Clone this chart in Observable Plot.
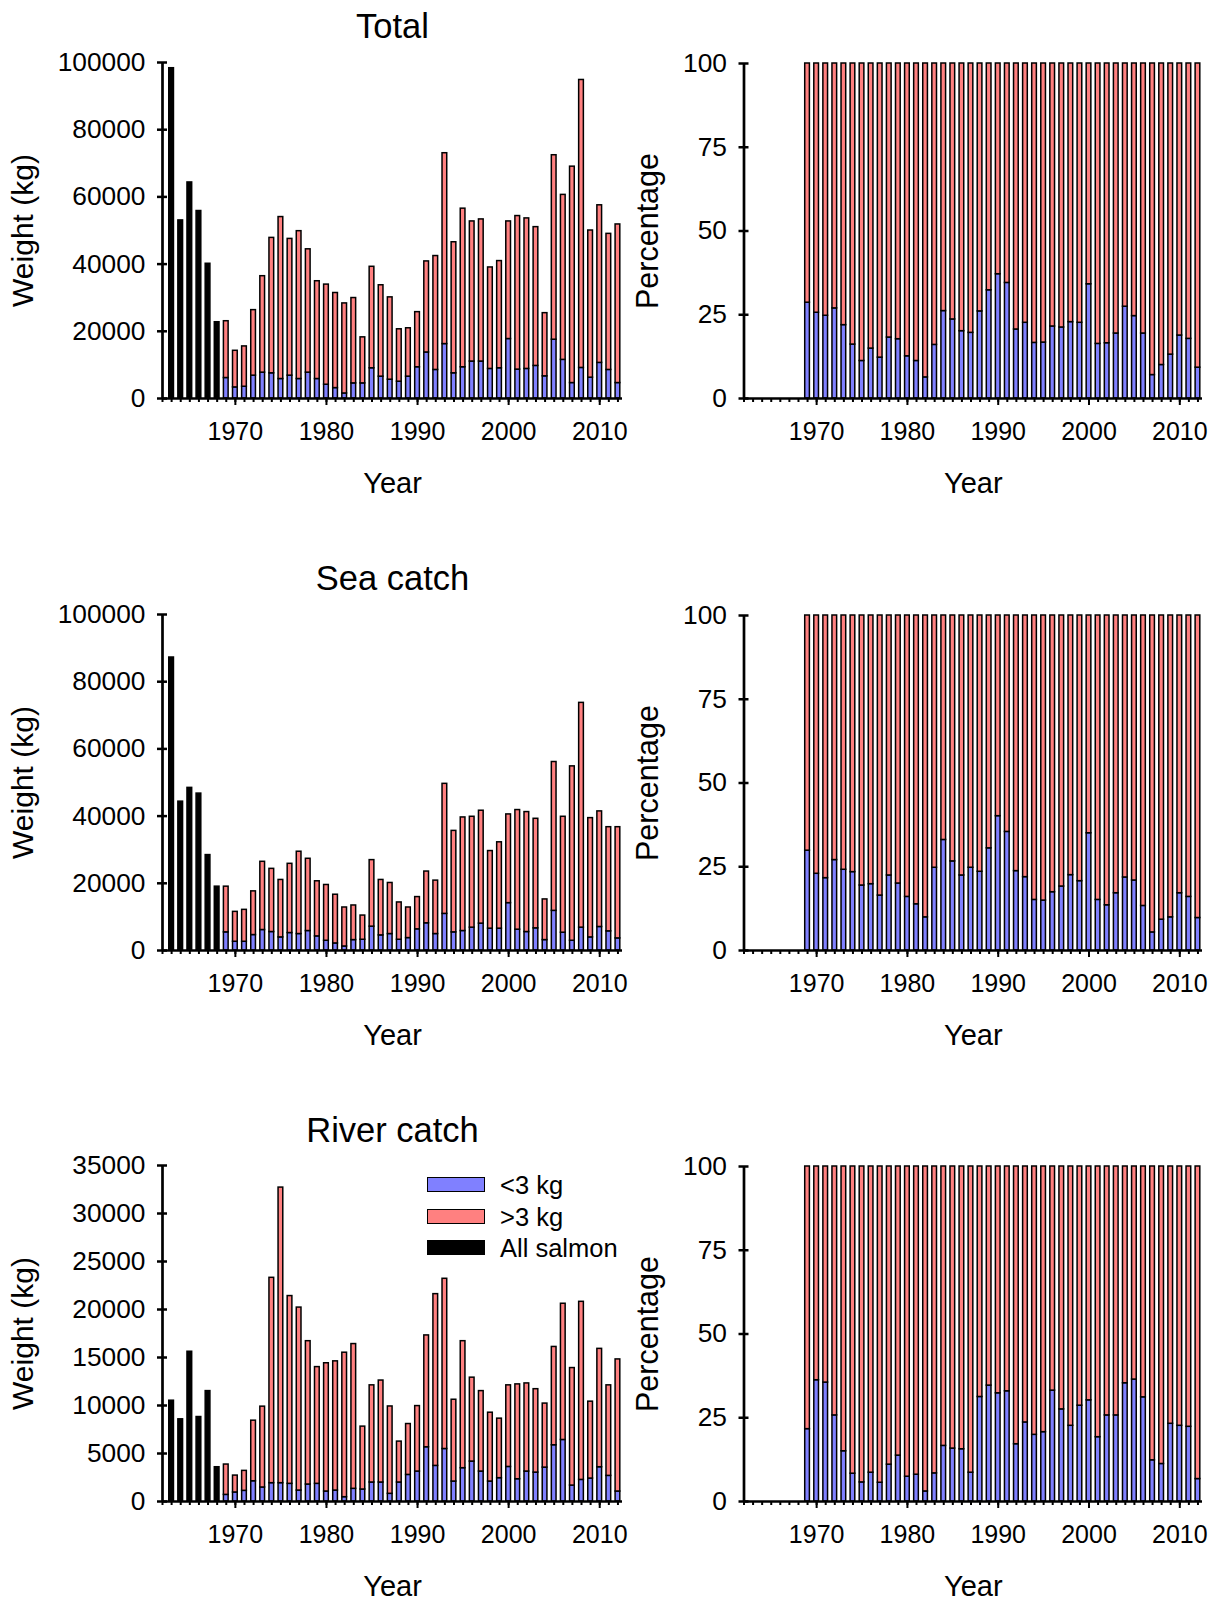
<!DOCTYPE html>
<html>
<head>
<meta charset="utf-8">
<script src="https://cdn.jsdelivr.net/npm/d3@7"></script>
<script src="https://cdn.jsdelivr.net/npm/@observablehq/plot@0.6"></script>
<style>
  html, body { margin: 0; padding: 0; background: #fff; }
  body { font-family: "Liberation Sans", Arial, Helvetica, sans-serif; color: #000; }
  #page { position: relative; width: 1221px; height: 1603px; overflow: hidden; }
  .panel { position: absolute; }
  .legend { position: absolute; left: 427px; top: 1177px; font-size: 25.5px; }
  .item { position: relative; height: 31.6px; }
  .box { position: absolute; left: 0; top: 0; width: 56px; height: 13px; border: 1.5px solid #000; }
  .lab { position: absolute; left: 73px; top: -7px; line-height: 30px; white-space: nowrap; }
</style>
</head>
<body>
<div id="page"></div>
<script>
// ---------- DATA ----------
const axisYears = [1962,1963,1964,1965,1966,1967,1968,1969,1970,1971,1972,1973,1974,1975,1976,1977,1978,1979,1980,1981,1982,1983,1984,1985,1986,1987,1988,1989,1990,1991,1992,1993,1994,1995,1996,1997,1998,1999,2000,2001,2002,2003,2004,2005,2006,2007,2008,2009,2010,2011,2012];
const decadeTicks = [1970, 1980, 1990, 2000, 2010];
const blackYears = [1963, 1964, 1965, 1966, 1967, 1968];
const sizeYears = [1969,1970,1971,1972,1973,1974,1975,1976,1977,1978,1979,1980,1981,1982,1983,1984,1985,1986,1987,1988,1989,1990,1991,1992,1993,1994,1995,1996,1997,1998,1999,2000,2001,2002,2003,2004,2005,2006,2007,2008,2009,2010,2011,2012];
const categories = ["<3 kg", ">3 kg", "All salmon"];

// Total
const totalBlack = [98300, 53000, 64300, 55800, 40100, 22700];
const totalAll = [23000,14200,15500,26300,36400,47800,54000,47500,49800,44400,34900,33900,31400,28300,29900,18200,39200,33700,30100,20600,20900,25700,40800,42400,73000,46500,56500,52700,53300,39000,40900,52700,54300,53600,51000,25400,72400,60600,69000,94800,50000,57500,49000,51800];
const totalSmall = [6100,3300,3500,6800,7700,7500,5800,6800,5800,7700,5800,4100,3100,1500,4500,4500,9000,6500,5600,5000,6500,9300,13700,8500,16200,7500,9300,11000,11000,8800,9000,17700,8600,8800,9700,6600,17500,11500,4600,9100,6200,10600,8500,4600];
const totalPct = [28.6,25.6,24.7,26.9,21.9,16.1,11.2,14.9,12.2,18.2,17.7,12.6,11.2,6.3,16.0,26.1,23.6,20.1,19.6,26.0,32.3,37.1,34.5,20.6,22.6,16.6,16.7,21.5,21.2,22.8,22.6,34.1,16.3,16.5,19.4,27.4,24.6,19.4,7.0,10.0,13.1,18.8,17.8,9.2];

// Sea catch
const seaBlack = [87200, 44300, 48400, 46700, 28400, 19000];
const seaAll = [19000,11500,12100,17600,26400,24300,21000,25800,29400,27300,20600,19500,16600,12800,13400,10400,26900,21000,20100,14300,12800,15900,23500,20800,49600,35600,39600,39800,41600,29600,32200,40500,41800,41200,39200,15200,56100,39800,54800,73700,39400,41400,36700,36700];
const seaSmall = [5400,2600,2600,4600,6100,5500,3900,5200,4900,5800,4200,2900,2100,1200,3100,3200,7100,4500,4900,3200,3700,6300,8100,4900,10900,5400,5800,6800,8000,6500,6500,14100,6200,5500,6600,3100,11800,5300,2900,6800,3900,7000,5700,3600];
const seaPct = [29.8,22.9,21.6,27.0,24.1,23.4,19.4,19.8,16.4,22.4,20.0,16.0,13.8,9.9,24.7,33.0,26.6,22.4,24.7,23.5,30.5,40.1,35.4,23.7,21.9,15.1,14.9,17.4,19.1,22.5,20.7,35.0,15.1,13.5,17.1,21.8,20.9,13.3,5.4,9.2,9.9,17.1,16.0,9.7];

// River catch
const riverBlack = [10500, 8560, 15600, 8800, 11500, 3570];
const riverAll = [3850,2700,3190,8420,9880,23300,32700,21400,20200,16700,14000,14400,14600,15500,16400,7800,12100,12600,9900,6240,8070,9940,17300,21600,23200,10600,16700,12900,11500,9250,8630,12100,12200,12300,11700,10200,16100,20600,13900,20800,10400,15900,12100,14800];
const riverSmall = [690,940,1110,2110,1460,1910,1910,1840,1140,1770,1840,1040,1140,450,1320,1250,1980,1980,800,1980,2770,3120,5650,3710,5470,2080,3470,4160,3120,2080,2430,3600,2320,3120,3010,3530,5860,6410,1660,2250,2390,3570,2670,1040];
const riverPct = [21.6,36.2,35.5,25.7,15.0,8.3,5.7,8.6,5.6,11.0,13.7,7.4,8.0,3.0,8.4,16.6,15.8,15.6,8.6,31.2,34.6,32.3,32.9,17.1,23.6,19.9,20.7,33.1,27.5,22.6,28.6,30.2,19.2,25.7,25.7,35.3,36.4,31.1,12.3,11.2,23.2,22.6,22.3,6.7];

const weightTicks100 = [0, 20000, 40000, 60000, 80000, 100000];
const weightTicks35 = [0, 5000, 10000, 15000, 20000, 25000, 30000, 35000];
const pctTicks = [0, 25, 50, 75, 100];
const titles = ["Total", "Sea catch", "River catch"];

// ---------- STYLE ----------
const FONT = '"Liberation Sans", Arial, Helvetica, sans-serif';
const catColors = ["#8080ff", "#ff8080", "#000000"];
const rowTops = [0, 552, 1103];
const titleDy = [-36, -36, -35];

function commonAxes(yTicks) {
  return [
    Plot.ruleY([0], {stroke: "#000", strokeWidth: 2.7}),
    Plot.ruleX([axisYears[0]], {stroke: "#000", strokeWidth: 2.7}),
    Plot.axisX(axisYears, {tickSize: 4, tickFormat: () => "", strokeWidth: 2, label: null}),
    Plot.axisX(decadeTicks, {tickSize: 7, tickPadding: 17, tickFormat: d => String(d), fontSize: 25, strokeWidth: 2, label: null, fill: "#000"}),
    Plot.axisY(yTicks, {tickSize: 10, dx: 5, tickPadding: 12, tickFormat: d => String(d), fontSize: 26.3, strokeWidth: 2.5, label: null, fill: "#000"}),
    Plot.text(["Year"], {frameAnchor: "bottom", dy: 85, fontSize: 29, lineAnchor: "middle", textAnchor: "middle", fill: "#000"})
  ];
}

function leftPanel(row, title, black, all, small, yTicks) {
  const rows = [];
  blackYears.forEach((yr, i) => rows.push({year: yr, y1: 0, y2: black[i], cls: "All salmon"}));
  sizeYears.forEach((yr, i) => {
    rows.push({year: yr, y1: 0, y2: small[i], cls: "<3 kg"});
    rows.push({year: yr, y1: small[i], y2: all[i], cls: ">3 kg"});
  });
  return Plot.plot({
    width: 640, height: 500,
    marginLeft: 162, marginRight: 18, marginTop: 62, marginBottom: 102,
    style: {fontFamily: FONT, color: "#000", background: "transparent", overflow: "visible"},
    x: {domain: [axisYears[0], 2012.5]},
    y: {domain: [0, yTicks[yTicks.length - 1]]},
    color: {domain: categories, range: catColors},
    marks: [
      Plot.rectY(rows, {x1: d => d.year - 0.5, x2: d => d.year + 0.5, y1: "y1", y2: "y2", fill: "cls",
        stroke: "#000", strokeWidth: 1.5, insetLeft: 2.2, insetRight: 2.2}),
      ...commonAxes(yTicks),
      Plot.text([title], {frameAnchor: "top", dy: titleDy[row], fontSize: 34.5, lineAnchor: "middle", textAnchor: "middle", fill: "#000"}),
      Plot.text(["Weight (kg)"], {frameAnchor: "left", dx: -139.5, rotate: -90, fontSize: 30, lineAnchor: "middle", textAnchor: "middle", fill: "#000"})
    ]
  });
}

function rightPanel(pct) {
  const rows = [];
  sizeYears.forEach((yr, i) => {
    rows.push({year: yr, y1: 0, y2: pct[i], cls: "<3 kg"});
    rows.push({year: yr, y1: pct[i], y2: 100, cls: ">3 kg"});
  });
  return Plot.plot({
    width: 621, height: 500,
    marginLeft: 143.5, marginRight: 19, marginTop: 63, marginBottom: 102,
    style: {fontFamily: FONT, color: "#000", background: "transparent", overflow: "visible"},
    x: {domain: [axisYears[0], 2012.5]},
    y: {domain: [0, 100]},
    color: {domain: categories, range: catColors},
    marks: [
      Plot.rectY(rows, {x1: d => d.year - 0.5, x2: d => d.year + 0.5, y1: "y1", y2: "y2", fill: "cls",
        stroke: "#000", strokeWidth: 1.5, insetLeft: 2.2, insetRight: 2.2}),
      ...commonAxes(pctTicks),
      Plot.text(["Percentage"], {frameAnchor: "left", dx: -95.5, rotate: -90, fontSize: 30.5, lineAnchor: "middle", textAnchor: "middle", fill: "#000"})
    ]
  });
}

const page = document.getElementById("page");
function place(node, left, top) {
  const div = document.createElement("div");
  div.className = "panel";
  div.style.left = left + "px";
  div.style.top = top + "px";
  div.appendChild(node);
  page.appendChild(div);
}

place(leftPanel(0, titles[0], totalBlack, totalAll, totalSmall, weightTicks100), 0, rowTops[0]);
place(rightPanel(totalPct), 600, rowTops[0]);
place(leftPanel(1, titles[1], seaBlack, seaAll, seaSmall, weightTicks100), 0, rowTops[1]);
place(rightPanel(seaPct), 600, rowTops[1]);
place(leftPanel(2, titles[2], riverBlack, riverAll, riverSmall, weightTicks35), 0, rowTops[2]);
place(rightPanel(riverPct), 600, rowTops[2]);

// Legend (bottom-left panel)
const legend = document.createElement("div");
legend.className = "legend";
categories.forEach((c, i) => {
  const item = document.createElement("div");
  item.className = "item";
  const box = document.createElement("div");
  box.className = "box";
  box.style.background = catColors[i];
  const lab = document.createElement("div");
  lab.className = "lab";
  lab.textContent = c;
  item.appendChild(box);
  item.appendChild(lab);
  legend.appendChild(item);
});
page.appendChild(legend);
</script>
</body>
</html>
